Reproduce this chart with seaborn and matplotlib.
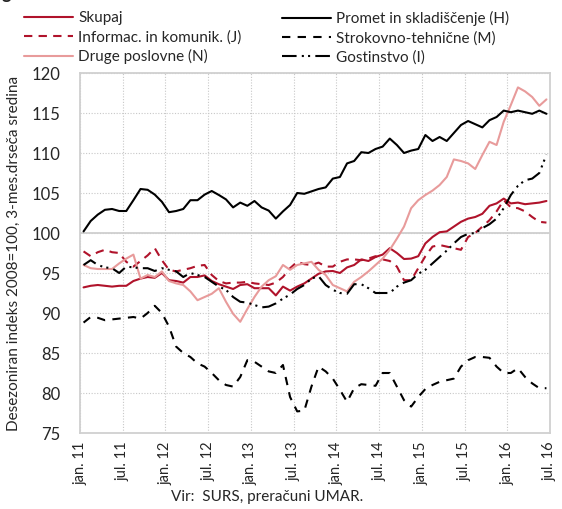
import matplotlib
matplotlib.use("Agg")
import matplotlib.pyplot as plt
import seaborn as sns
import pandas as pd
import numpy as np

# monthly values, jan 2011 .. jun 2016
skupaj = [93.2, 93.4, 93.5, 93.4, 93.3, 93.4, 93.4, 94.0, 94.3, 94.5, 94.4, 95.0,
          94.1, 94.0, 93.8, 94.5, 94.5, 94.7, 94.0, 93.6, 93.3, 93.0, 93.5, 93.6,
          93.1, 93.1, 93.1, 92.2, 93.3, 92.8, 93.3, 93.7, 94.3, 94.9, 95.2, 95.25,
          95.0, 95.7, 96.0, 96.7, 96.5, 97.0, 97.3, 98.1, 97.5, 96.75, 96.8, 97.1,
          98.7, 99.5, 100.1, 100.2, 100.8, 101.4, 101.8, 102.0, 102.4, 103.4, 103.7, 104.3,
          103.7, 103.8, 103.6, 103.7, 103.8, 104.0]
informac = [97.7, 97.1, 97.6, 97.9, 97.6, 97.5, 96.4, 95.8, 96.5, 97.2, 98.1, 96.6,
            95.4, 95.2, 95.4, 95.6, 95.9, 96.0, 94.75, 94.0, 93.7, 93.8, 93.8, 93.9,
            93.7, 93.6, 93.5, 93.8, 94.5, 95.6, 96.4, 96.1, 96.0, 96.3, 95.8, 95.8,
            96.4, 96.7, 96.7, 96.6, 96.8, 97.1, 96.7, 96.5, 95.8, 94.1, 94.1, 95.6,
            97.1, 98.3, 98.5, 98.3, 98.1, 97.9, 99.5, 100.0, 100.8, 101.6, 102.7, 104.1,
            103.2, 103.1, 102.7, 102.0, 101.4, 101.3]
druge = [96.0, 95.6, 95.5, 95.5, 95.5, 96.2, 96.8, 97.3, 94.3, 94.75, 94.5, 95.2,
         94.0, 93.7, 93.5, 92.7, 91.6, 92.0, 92.4, 93.1, 91.4, 89.9, 88.9, 90.5,
         92.0, 93.3, 94.1, 94.6, 96.0, 95.4, 96.0, 96.2, 96.4, 95.4, 94.75, 93.5,
         93.1, 92.7, 93.9, 94.5, 95.2, 96.0, 96.8, 97.9, 99.3, 100.8, 103.1, 104.1,
         104.75, 105.3, 106.0, 107.0, 109.2, 109.0, 108.7, 108.0, 109.75, 111.4, 111.0, 113.9,
         116.0, 118.2, 117.7, 117.0, 115.9, 116.7]
promet = [100.2, 101.5, 102.3, 102.9, 103.0, 102.75, 102.75, 104.1, 105.5, 105.4, 104.8, 103.9,
          102.6, 102.75, 103.0, 104.1, 104.1, 104.8, 105.25, 104.75, 104.2, 103.2, 103.8, 103.4,
          104.0, 103.2, 102.8, 101.8, 102.7, 103.5, 105.0, 104.9, 105.2, 105.5, 105.7, 106.8,
          107.0, 108.7, 109.0, 110.1, 110.0, 110.5, 110.8, 111.8, 111.0, 110.0, 110.3, 110.5,
          112.25, 111.5, 112.0, 111.5, 112.5, 113.5, 114.0, 113.6, 113.2, 114.1, 114.5, 115.3,
          115.1, 115.3, 115.1, 114.9, 115.3, 114.9]
strokovno = [88.8, 89.5, 89.4, 89.1, 89.2, 89.3, 89.4, 89.5, 89.3, 90.0, 90.9, 90.0,
             88.3, 85.8, 85.0, 84.5, 83.7, 83.3, 82.5, 81.6, 81.0, 80.8, 82.0, 84.1,
             83.9, 83.3, 82.7, 82.5, 83.5, 79.5, 77.7, 77.8, 80.8, 83.3, 82.7, 81.8,
             80.4, 78.9, 80.6, 81.1, 81.0, 80.9, 82.5, 82.5, 80.8, 79.1, 78.3, 79.5,
             80.5, 81.0, 81.4, 81.6, 81.8, 83.3, 84.1, 84.5, 84.5, 84.4, 83.3, 82.5,
             82.5, 83.1, 82.0, 81.2, 80.6, 80.6]
gostinstvo = [96.0, 96.6, 96.0, 95.7, 95.6, 95.0, 95.8, 95.7, 95.6, 95.6, 95.25, 95.6,
              95.4, 95.2, 94.5, 95.0, 94.75, 94.5, 93.9, 93.3, 92.9, 92.0, 91.4, 91.3,
              91.0, 90.7, 90.8, 91.2, 91.8, 92.3, 93.0, 93.5, 94.3, 94.6, 93.5, 92.9,
              92.5, 92.4, 93.6, 93.6, 93.1, 92.5, 92.5, 92.5, 93.3, 93.8, 94.1, 94.9,
              95.4, 96.2, 97.0, 97.8, 98.7, 99.5, 99.9, 100.0, 100.6, 101.1, 101.8, 103.1,
              104.75, 105.9, 106.6, 106.8, 107.5, 109.8]

names = ["Skupaj", "Informac. in komunik. (J)", "Druge poslovne (N)",
         "Promet in skladiščenje (H)", "Strokovno-tehnične (M)", "Gostinstvo (I)"]
series = [skupaj, informac, druge, promet, strokovno, gostinstvo]
tick_labels = ["jan. 11", "jul. 11", "jan. 12", "jul. 12", "jan. 13", "jul. 13",
               "jan. 14", "jul. 14", "jan. 15", "jul. 15", "jan. 16", "jul. 16"]

red = "#b0132b"
pink = "#e89b9b"
palette = dict(zip(names, [red, red, pink, "black", "black", "black"]))
dashes = dict(zip(names, ["", (4, 3), "", "", (4, 3.5), (7, 2.5, 1, 2, 1, 2.5)]))

rows = []
for name, vals in zip(names, series):
    for i, v in enumerate(vals):
        rows.append({"mesec": i, "indeks": v, "serija": name})
df = pd.DataFrame(rows)

sns.set_style("white")
plt.rcParams["font.family"] = ["Lato", "DejaVu Sans"]

fig = plt.figure(figsize=(5.62, 5.09), dpi=100)
ax = fig.add_axes([80 / 562, 1 - 433 / 509, 470 / 562, 360 / 509])

ax.axhline(100, color="#cfcfcf", lw=1.3, zorder=1)
sns.lineplot(data=df, x="mesec", y="indeks", hue="serija", style="serija",
             hue_order=names, style_order=names, palette=palette, dashes=dashes,
             linewidth=1.5, ax=ax, zorder=3)

ax.set_xlim(-0.5, 65.5)
ax.set_ylim(75, 120)
ax.set_xticks([6 * k - 0.5 for k in range(len(tick_labels))])
ax.set_xticklabels(tick_labels, rotation=90, fontsize=10.5)
ax.set_yticks(np.arange(75, 121, 5))
ax.tick_params(axis="y", labelsize=12, length=0, pad=14)
ax.tick_params(axis="x", length=0, pad=6)
ax.grid(True, color="#c8c8c8", linestyle=(0, (1, 1.5)), linewidth=0.8)
for s in ax.spines.values():
    s.set_color("#d0d0d0")
    s.set_linewidth(1.3)

ax.set_xlabel("")
ax.set_ylabel("Desezoniran indeks 2008=100, 3-mes.drseča sredina", fontsize=11)
ax.yaxis.set_label_coords(-0.125, 0.5)

handles, labels = ax.get_legend_handles_labels()
if ax.legend_:
    ax.legend_.remove()
for hs, ls, x0 in [(handles[:3], labels[:3], 24), (handles[3:], labels[3:], 282)]:
    fig.legend(hs, ls, loc="upper left",
               bbox_to_anchor=(x0 / 562, 1 - 11 / 509), frameon=False,
               fontsize=11, handlelength=3.2, handletextpad=0.35,
               labelspacing=0.32, borderpad=0, borderaxespad=0)

fig.text(1 / 562, 1 + 1 / 509, "g", fontsize=13, fontweight="bold", va="baseline")
fig.text(267 / 562, 1 - 497 / 509, "Vir:  SURS, preračuni UMAR.",
         ha="center", va="center", fontsize=11)

fig.savefig("out.png", dpi=100)
